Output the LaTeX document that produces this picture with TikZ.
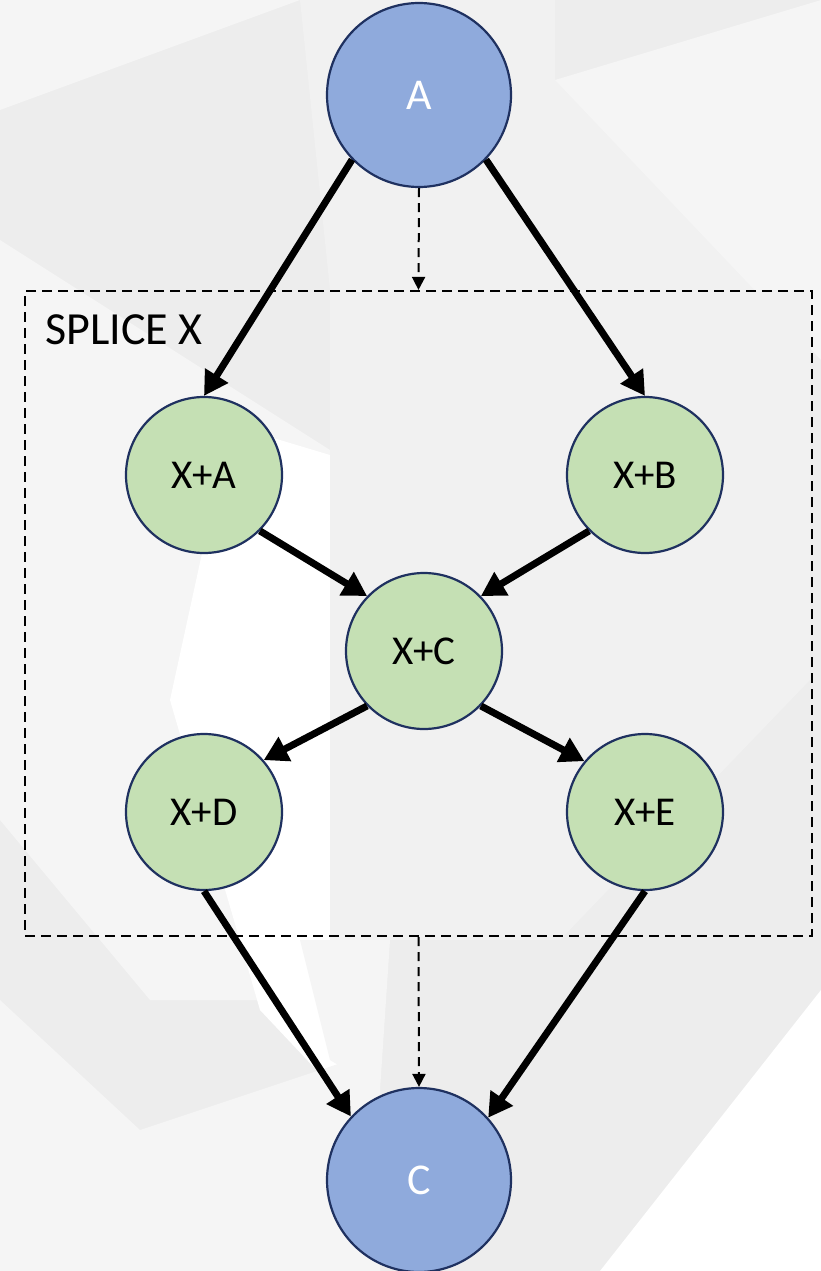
\documentclass[tikz,border=0pt]{standalone}
\usepackage{fontspec}
\setmainfont{Carlito}
\usetikzlibrary{arrows.meta}

\definecolor{bgGrey}{HTML}{EDEDED}
\definecolor{bgLight}{HTML}{F5F5F5}
\definecolor{bgMid}{HTML}{F1F1F1}
\definecolor{nodeBlue}{HTML}{8FAADC}
\definecolor{nodeGreen}{HTML}{C5E0B4}
\definecolor{rimNavy}{HTML}{1F3160}

\tikzset{
  endpoint/.style={circle, draw=rimNavy, line width=2.2pt, fill=nodeBlue,
    minimum size=184pt, inner sep=0pt, text=white, font=\fontsize{44}{48}\selectfont},
  splicestep/.style={circle, draw=rimNavy, line width=2.2pt, fill=nodeGreen,
    minimum size=156pt, inner sep=0pt, text=black, font=\fontsize{41}{45}\selectfont},
  flow/.style={line width=7pt, -{Triangle[length=24pt,width=26pt]}},
  scopeflow/.style={line width=2pt, dash pattern=on 9pt off 6pt,
    -{Triangle[length=13pt,width=13pt]}},
  splicebox/.style={draw, line width=2.2pt, dash pattern=on 10pt off 6pt,
    minimum width=787pt, minimum height=645pt, inner sep=0pt}
}

\begin{document}
\begin{tikzpicture}[x=1pt, y=-1pt]
  % canvas and soft background panels
  \fill[bgGrey] (0,0) rectangle (821,1271);
  \useasboundingbox (0,0) rectangle (821,1271);
  \fill[bgLight] (0,0) -- (300,0) -- (0,110) -- cycle;
  \fill[bgMid] (300,0) -- (555,0) -- (555,80) -- (780,290) -- (330,290) -- cycle;
  \fill[bgLight] (555,80) -- (821,0) -- (821,360) -- cycle;
  \fill[bgLight] (0,240) -- (330,450) -- (330,1000) -- (150,1000) -- (0,820) -- cycle;
  \fill[white] (230,425) -- (330,455) -- (340,1095) -- (260,1010) -- (170,700) -- cycle;
  \fill[bgMid] (330,290) -- (810,290) -- (810,680) -- (560,940) -- (330,940) -- cycle;
  \fill[bgLight] (300,940) -- (390,940) -- (380,1090) -- (330,1060) -- cycle;
  \fill[bgLight] (0,1000) -- (140,1130) -- (380,1050) -- (380,1271) -- (0,1271) -- cycle;
  \fill[white] (600,1271) -- (821,990) -- (821,1271) -- cycle;

  % scope of the splice
  \node[splicebox] (splice) at (418.5,613.5) {};
  \node[anchor=west, inner sep=0pt, font=\fontsize{46}{50}\selectfont] (splicelabel)
    at (45,330) {SPLICE X};

  % nodes
  \node[endpoint] (A) at (419,95) {A};
  \node[endpoint] (C) at (419,1180) {C};
  \node[splicestep] (XA) at (204,475) {X+A};
  \node[splicestep] (XB) at (645,475) {X+B};
  \node[splicestep] (XC) at (424,651) {X+C};
  \node[splicestep] (XD) at (204,812) {X+D};
  \node[splicestep] (XE) at (645,812) {X+E};

  % scope arrows
  \draw[scopeflow] (A.south) -- (splice.north);
  \draw[scopeflow] (splice.south) -- (C.north);

  % main flow
  \draw[flow] (A.224) -- (XA.north);
  \draw[flow] (A.316) -- (XB.north);
  \draw[flow] (XA.-45) -- (XC.136);
  \draw[flow] (XB.225) -- (XC.44);
  \draw[flow] (XC.224) -- (XD.41);
  \draw[flow] (XC.316) -- (XE.140);
  \draw[flow] (XD.south) -- (C.137);
  \draw[flow] (XE.south) -- (C.42);
\end{tikzpicture}
\end{document}
